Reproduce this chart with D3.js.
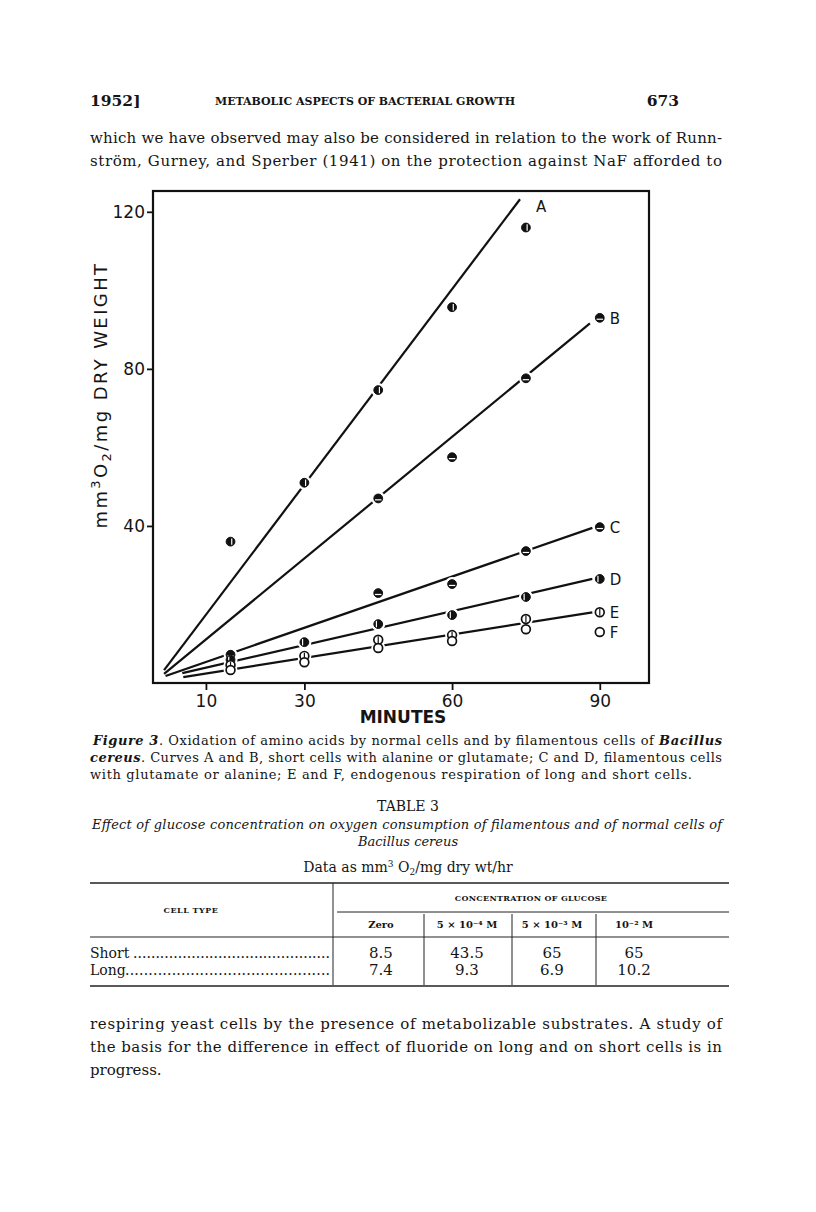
<!DOCTYPE html>
<html>
<head>
<meta charset="utf-8">
<script src="https://cdn.jsdelivr.net/npm/d3@7"></script>
<style>
  body { margin: 0; background: #fff; }
  svg text { fill: #151515; }
  .serif { font-family: "DejaVu Serif", "Liberation Serif", serif; }
  .sans { font-family: "DejaVu Sans", sans-serif; }
</style>
</head>
<body>
<div class="page"></div>
<script>
// ---- chart data ----
var minutes = [15, 30, 45, 60, 75, 90];
var curveNames = ["A", "B", "C", "D", "E", "F"];
var curveA = [36, 51, 74.6, 95.7, 116, null];
var curveB = [null, null, 47, 57.5, 77.6, 93];
var curveC = [7.2, null, 22.9, 25.2, 33.6, 39.7];
var curveD = [5.9, 10.4, 15, 17.3, 21.9, 26.5];
var curveE = [4.6, 6.9, 11, 12.2, 16.3, 18];
var curveF = [3.3, 5.3, 8.9, 10.7, 13.7, 13];

// fitted straight lines drawn through the points (E and F share one)
var lineNames = ["A", "B", "C", "D", "E"];
var lineFrom = [[1.5, 3.3], [1.5, 2.3], [1.8, 1.8], [5.2, 2.5], [5.4, 1.5]];
var lineTo = [[73.8, 123.2], [88, 91.6], [88.5, 39.5], [88.5, 26.5], [88.5, 18]];

var xTicks = [10, 30, 60, 90];
var yTicks = [40, 80, 120];

// ---- page text ----
var runningHead = ["1952]", "METABOLIC ASPECTS OF BACTERIAL GROWTH", "673"];
var topLines = [
  "which we have observed may also be considered in relation to the work of Runn-",
  "str\u00f6m, Gurney, and Sperber (1941) on the protection against NaF afforded to"
];
var bottomLines = [
  "respiring yeast cells by the presence of metabolizable substrates. A study of",
  "the basis for the difference in effect of fluoride on long and on short cells is in",
  "progress."
];
var tableCols = ["Zero", "5 \u00d7 10\u207b\u2074 M", "5 \u00d7 10\u207b\u00b3 M", "10\u207b\u00b2 M"];
var rowLabels = ["Short", "Long"];
var shortValues = ["8.5", "43.5", "65", "65"];
var longValues = ["7.4", "9.3", "6.9", "10.2"];

var svg = d3.select(".page")
  .append("svg")
  .attr("width", 816)
  .attr("height", 1212);

svg.append("rect").attr("width", 816).attr("height", 1212).attr("fill", "#fff");

function txt(x, y, s, size, cls, anchor) {
  return svg.append("text")
    .attr("class", cls || "serif")
    .attr("x", x)
    .attr("y", y)
    .attr("font-size", size)
    .attr("text-anchor", anchor || "start")
    .text(s);
}

// running head
txt(90, 106, runningHead[0], 15.5).attr("font-weight", "bold");
txt(365, 105, runningHead[1], 11.5).attr("font-weight", "bold")
  .attr("text-anchor", "middle").attr("textLength", 300).attr("lengthAdjust", "spacingAndGlyphs");
txt(679, 106, runningHead[2], 15.5, "serif", "end").attr("font-weight", "bold");

topLines.forEach(function(s, i) {
  txt(90, 143 + i * 23, s, 15).attr("textLength", 632).attr("lengthAdjust", "spacing");
});

// ---- the figure ----
var x = d3.scaleLinear().domain([-0.75, 100]).range([153, 649]);
var y = d3.scaleLinear().domain([0, 125.3]).range([683, 191]);

var chart = svg.append("g");

chart.append("rect")
  .attr("x", x(-0.75)).attr("y", y(125.3))
  .attr("width", x(100) - x(-0.75)).attr("height", y(0) - y(125.3))
  .attr("fill", "none").attr("stroke", "#111").attr("stroke-width", 2.2);

var leftAxis = d3.axisLeft(y).tickValues(yTicks).tickSize(6).tickPadding(2);
var bottomAxis = d3.axisBottom(x).tickValues(xTicks).tickSize(7).tickPadding(5);

var gy = chart.append("g")
  .attr("transform", "translate(" + x(-0.75) + ",0)")
  .call(leftAxis);
var gx = chart.append("g")
  .attr("transform", "translate(0," + y(0) + ")")
  .call(bottomAxis);

[gx, gy].forEach(function(g) {
  g.select(".domain").remove();
  g.selectAll("line").attr("stroke", "#111").attr("stroke-width", 1.8);
  g.selectAll("text")
    .attr("font-family", "DejaVu Sans, sans-serif")
    .attr("font-size", 17)
    .attr("fill", "#151515");
});

// axis titles
var yLab = chart.append("text")
  .attr("class", "sans")
  .attr("transform", "translate(107,395) rotate(-90)")
  .attr("text-anchor", "middle")
  .attr("font-size", 18)
  .attr("letter-spacing", 2.4);
yLab.append("tspan").text("mm");
yLab.append("tspan").attr("dy", -7).attr("font-size", 13).text("3");
yLab.append("tspan").attr("dy", 7).text("O");
yLab.append("tspan").attr("dy", 4).attr("font-size", 13).text("2");
yLab.append("tspan").attr("dy", -4).text("/mg DRY WEIGHT");

chart.append("text")
  .attr("class", "sans")
  .attr("x", 403).attr("y", 723)
  .attr("text-anchor", "middle")
  .attr("font-size", 17).attr("font-weight", "bold")
  .text("MINUTES");

// fitted lines
lineNames.forEach(function(n, i) {
  chart.append("line")
    .attr("x1", x(lineFrom[i][0])).attr("y1", y(lineFrom[i][1]))
    .attr("x2", x(lineTo[i][0])).attr("y2", y(lineTo[i][1]))
    .attr("stroke", "#111").attr("stroke-width", 2.2);
});

var allCurves = [curveA, curveB, curveC, curveD, curveE, curveF];
var points = [];
allCurves.forEach(function(vals, ci) {
  vals.forEach(function(v, j) {
    if (v !== null) points.push({ name: curveNames[ci], t: minutes[j], v: v });
  });
});

// white halo breaks the lines around each point
chart.selectAll(".halo")
  .data(points)
  .enter()
  .append("circle")
  .attr("class", "halo")
  .attr("cx", function(d) { return x(d.t); })
  .attr("cy", function(d) { return y(d.v); })
  .attr("r", 7)
  .attr("fill", "#fff");

var marks = chart.selectAll(".mark")
  .data(points)
  .enter()
  .append("g")
  .attr("class", "mark")
  .attr("transform", function(d) { return "translate(" + x(d.t) + "," + y(d.v) + ")"; });

marks.append("circle")
  .attr("r", 4.4)
  .attr("fill", function(d) { return (d.name === "E" || d.name === "F") ? "#fff" : "#111"; })
  .attr("stroke", "#111")
  .attr("stroke-width", function(d) { return (d.name === "E" || d.name === "F") ? 1.7 : 1; });

marks.filter(function(d) { return d.name === "A" || d.name === "D" || d.name === "E"; })
  .append("line")
  .attr("x1", function(d) { return d.name === "A" ? 1.2 : (d.name === "D" ? -1.8 : 0); })
  .attr("x2", function(d) { return d.name === "A" ? 1.2 : (d.name === "D" ? -1.8 : 0); })
  .attr("y1", -3.2).attr("y2", 3.2)
  .attr("stroke", function(d) { return d.name === "E" ? "#111" : "#fff"; })
  .attr("stroke-width", 1.2);

marks.filter(function(d) { return d.name === "B" || d.name === "C"; })
  .append("line")
  .attr("x1", -3.2).attr("x2", 3.2)
  .attr("y1", 1.4).attr("y2", 1.4)
  .attr("stroke", "#fff")
  .attr("stroke-width", 1.2);

// curve letters
var lastPts = allCurves.map(function(vals, i) {
  if (i === 0) return [x(lineTo[0][0]) + 16, y(lineTo[0][1]) + 13];
  return [x(90) + 10, y(vals[5]) + 6];
});
curveNames.forEach(function(n, i) {
  chart.append("text")
    .attr("class", "sans")
    .attr("x", lastPts[i][0]).attr("y", lastPts[i][1])
    .attr("font-size", 15)
    .text(n);
});

// ---- caption ----
var cap1 = txt(93, 745, "", 13).attr("textLength", 629).attr("lengthAdjust", "spacing");
cap1.append("tspan").attr("font-style", "italic").attr("font-weight", "bold").text("Figure 3");
cap1.append("tspan").text(". Oxidation of amino acids by normal cells and by filamentous cells of ");
cap1.append("tspan").attr("font-style", "italic").attr("font-weight", "bold").text("Bacillus");
var cap2 = txt(90, 762, "", 13).attr("textLength", 632).attr("lengthAdjust", "spacing");
cap2.append("tspan").attr("font-style", "italic").attr("font-weight", "bold").text("cereus");
cap2.append("tspan").text(". Curves A and B, short cells with alanine or glutamate; C and D, filamentous cells");
txt(90, 779, "with glutamate or alanine; E and F, endogenous respiration of long and short cells.", 13)
  .attr("textLength", 602).attr("lengthAdjust", "spacing");

// ---- table 3 ----
txt(408, 811, "TABLE 3", 14, "serif", "middle");
txt(92, 829, "Effect of glucose concentration on oxygen consumption of filamentous and of normal cells of", 13)
  .attr("font-style", "italic").attr("textLength", 630).attr("lengthAdjust", "spacing");
txt(408, 846, "Bacillus cereus", 13, "serif", "middle").attr("font-style", "italic");
var unitLine = txt(408, 872, "", 14, "serif", "middle");
unitLine.append("tspan").text("Data as mm");
unitLine.append("tspan").attr("dy", -5).attr("font-size", 9).text("3");
unitLine.append("tspan").attr("dy", 5).text(" O");
unitLine.append("tspan").attr("dy", 3).attr("font-size", 9).text("2");
unitLine.append("tspan").attr("dy", -3).text("/mg dry wt/hr");

function rule(x1, y1, x2, y2, w) {
  svg.append("line")
    .attr("x1", x1).attr("y1", y1).attr("x2", x2).attr("y2", y2)
    .attr("stroke", "#222").attr("stroke-width", w || 1);
}
rule(90, 883, 729, 883, 1.6);
rule(337, 912, 729, 912, 1);
rule(90, 937, 729, 937, 1);
rule(90, 986, 729, 986, 1.6);
rule(333, 883, 333, 985, 1);
var colEdges = [424, 512, 596];
colEdges.forEach(function(cx) { rule(cx, 914, cx, 985, 1); });

txt(191, 913, "CELL TYPE", 8, "serif", "middle").attr("font-weight", "bold").attr("letter-spacing", 0.5);
txt(531, 901, "CONCENTRATION OF GLUCOSE", 8, "serif", "middle").attr("font-weight", "bold").attr("letter-spacing", 0.3);

var colCenters = [381, 467, 552, 634];
tableCols.forEach(function(c, i) {
  txt(colCenters[i], 928, c, 10, "serif", "middle").attr("font-weight", "bold");
});

[shortValues, longValues].forEach(function(vals, r) {
  var yy = 958 + r * 17;
  txt(90, yy, rowLabels[r], 14);
  var startX = r === 0 ? 133 : 125;
  txt(startX, yy, d3.range(44).map(function() { return "."; }).join(""), 14)
    .attr("textLength", 330 - startX).attr("lengthAdjust", "spacing");
  vals.forEach(function(v, i) {
    txt(colCenters[i], yy, v, 15, "serif", "middle");
  });
});

bottomLines.forEach(function(s, i) {
  var t = txt(90, 1029 + i * 23, s, 15);
  if (i < 2) t.attr("textLength", 632).attr("lengthAdjust", "spacing");
});
</script>
</body>
</html>
